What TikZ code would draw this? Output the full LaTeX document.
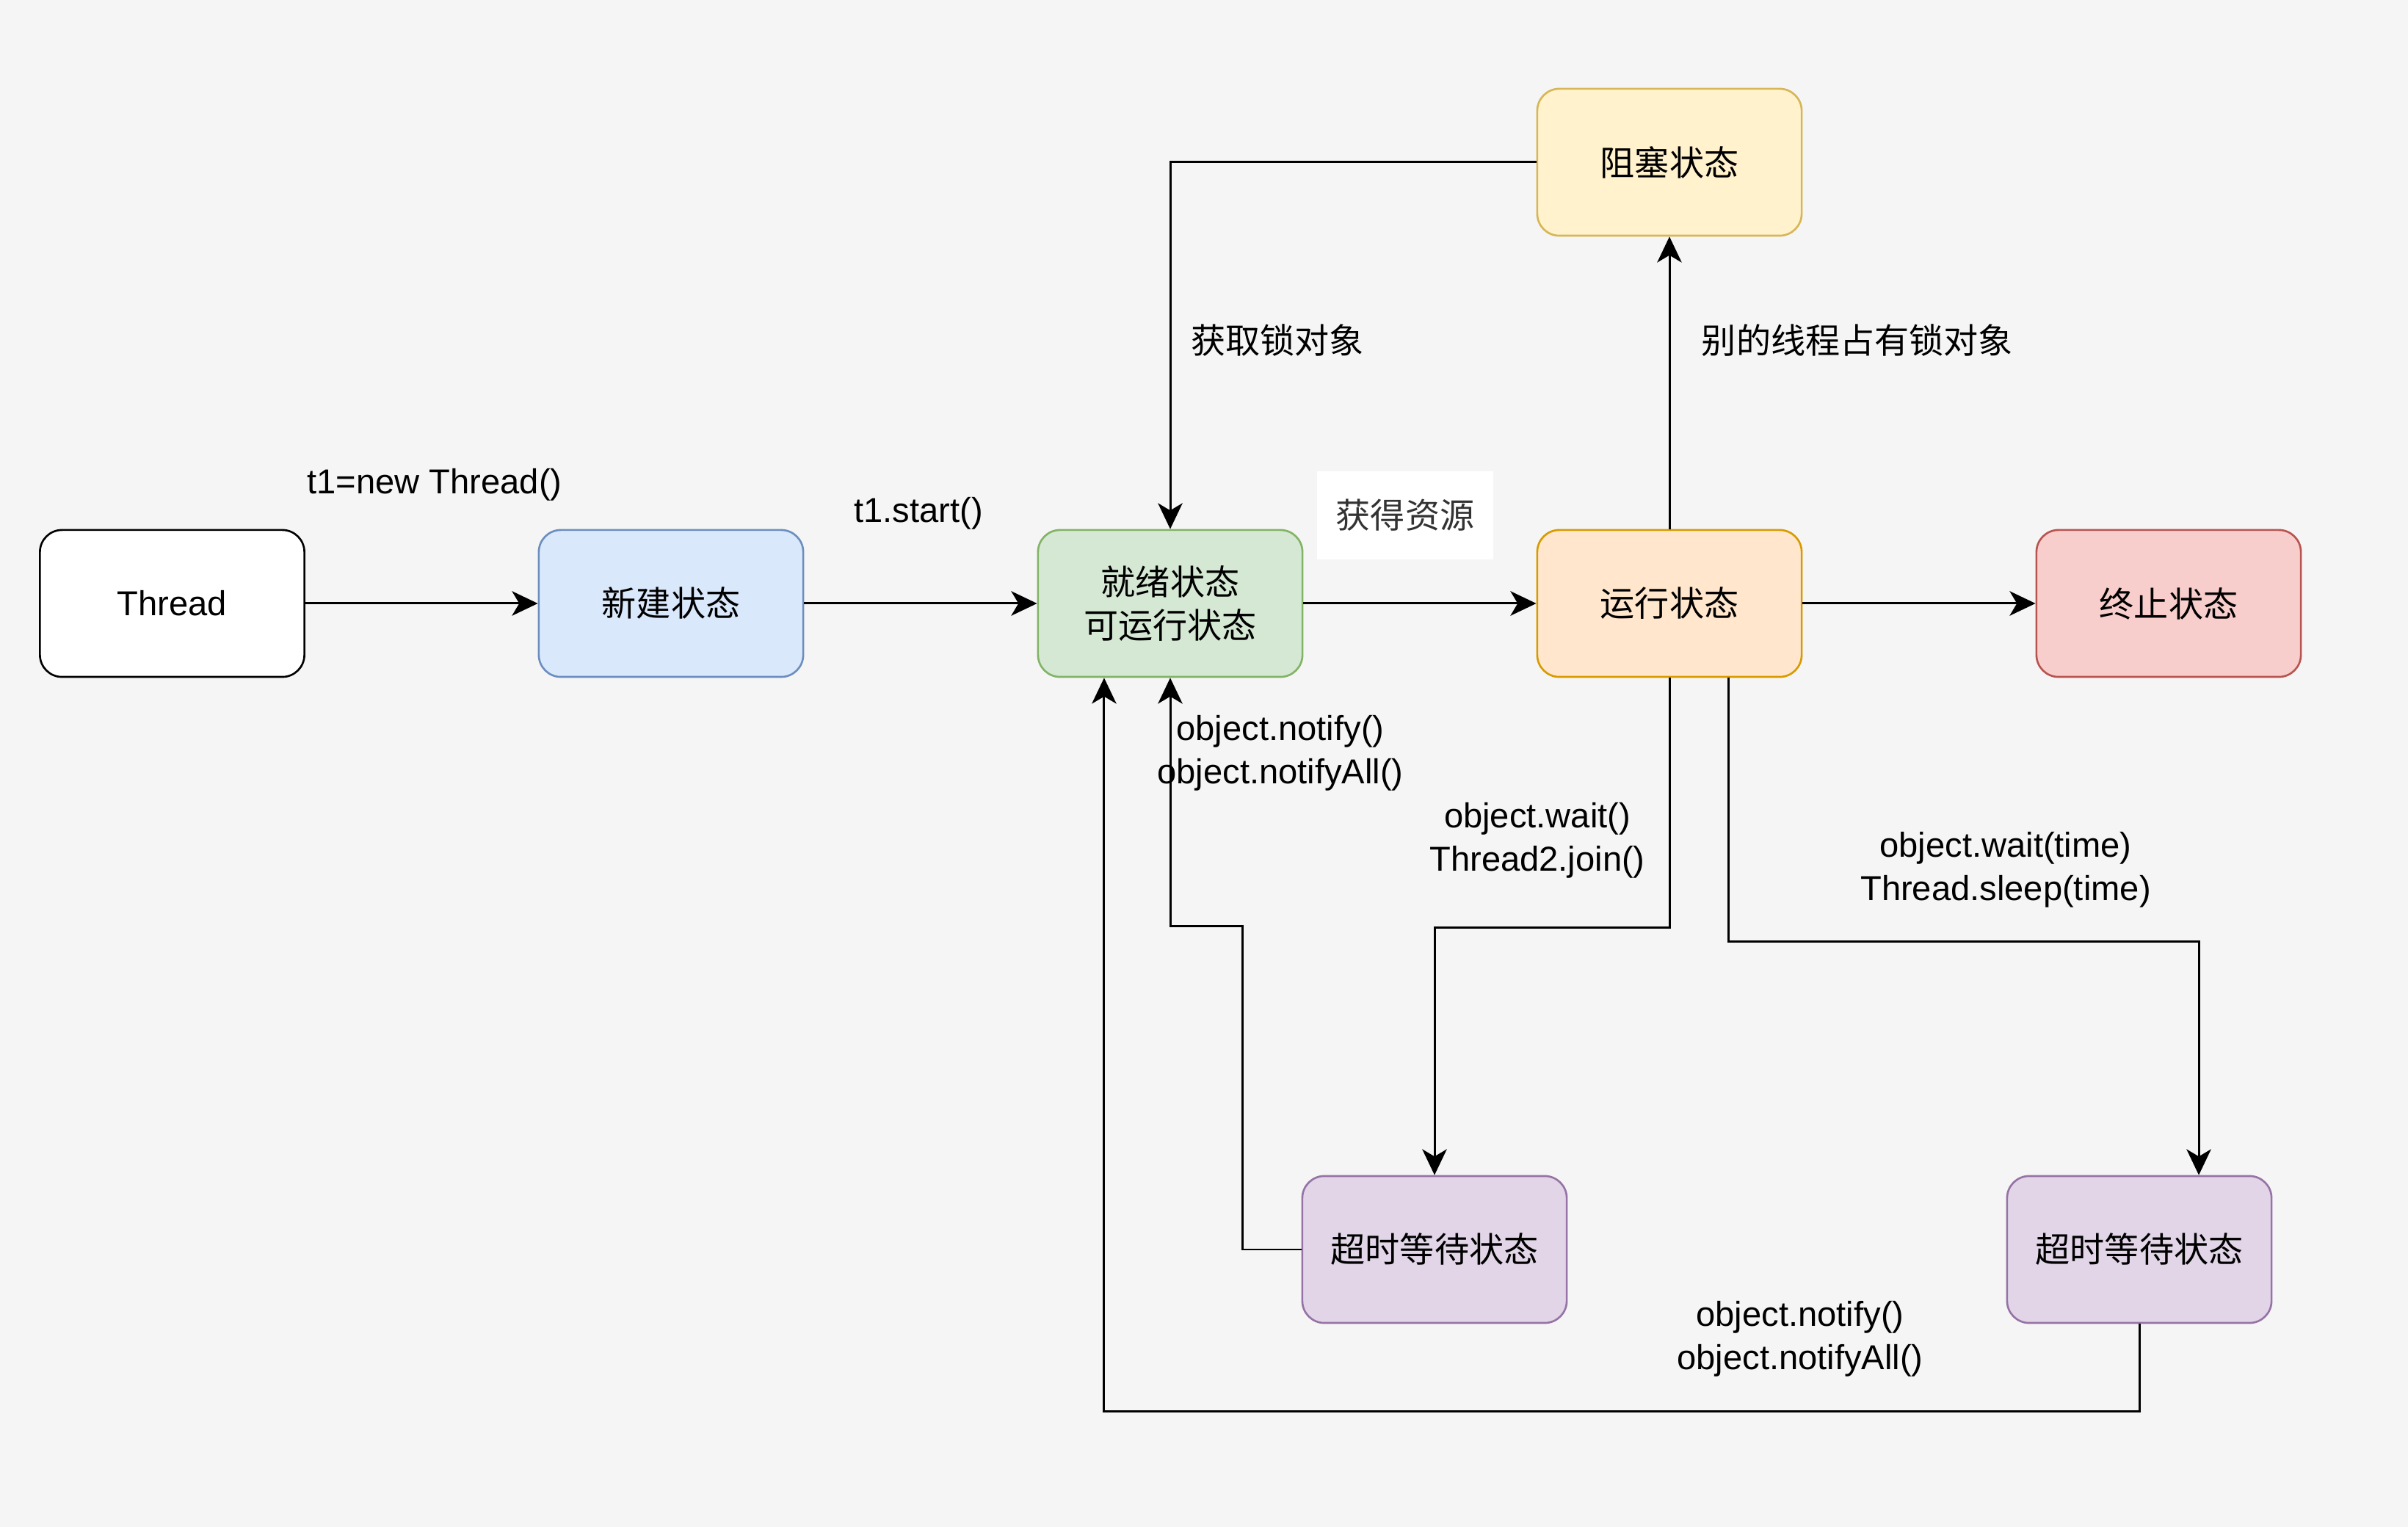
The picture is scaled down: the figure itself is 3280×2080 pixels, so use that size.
\documentclass[tikz,border=0pt]{standalone}
\usepackage{fontspec}
\setmainfont{Liberation Sans}
\newfontfamily\cjk{Noto Sans CJK SC}
\usetikzlibrary{arrows.meta}
\definecolor{bgc}{HTML}{F5F5F5}
\definecolor{bluef}{HTML}{DAE8FC}\definecolor{blues}{HTML}{6C8EBF}
\definecolor{greenf}{HTML}{D5E8D4}\definecolor{greens}{HTML}{82B366}
\definecolor{orangef}{HTML}{FFE6CC}\definecolor{oranges}{HTML}{D79B00}
\definecolor{redf}{HTML}{F8CECC}\definecolor{reds}{HTML}{B85450}
\definecolor{yellowf}{HTML}{FFF2CC}\definecolor{yellows}{HTML}{D6B656}
\definecolor{purplef}{HTML}{E1D5E7}\definecolor{purples}{HTML}{9673A6}
\definecolor{txtgray}{HTML}{333333}
\tikzset{
  statebox/.style={draw, rounded corners=0.3cm, minimum width=3.6cm, minimum height=2cm,
    line width=0.75pt, align=center, inner sep=0pt,
    font=\cjk\fontsize{13.4pt}{16.8pt}\selectfont},
  lbl/.style={align=center, inner sep=0pt, font=\fontsize{13.4pt}{16.6pt}\selectfont},
  cjklbl/.style={align=center, inner sep=0pt, font=\cjk\fontsize{13.4pt}{16.6pt}\selectfont},
  conn/.style={line width=0.85pt, -{Stealth[length=10pt,width=9.5pt,inset=2.8pt]}},
}
\begin{document}
\begin{tikzpicture}[x=0.01cm,y=-0.01cm]
\fill[bgc] (0,0) rectangle (3280,2080);
\useasboundingbox (0,0) rectangle (3280,2080);
% nodes
\node[statebox, fill=white, draw=black, font=\fontsize{13.4pt}{16.8pt}\selectfont] (thread) at (234.5,822) {Thread};
\node[statebox, fill=bluef, draw=blues] (xinjian) at (914,822) {新建状态};
\node[statebox, fill=greenf, draw=greens] (jiuxu) at (1594,822) {就绪状态\\可运行状态};
\node[statebox, fill=orangef, draw=oranges] (yunxing) at (2274,822) {运行状态};
\node[statebox, fill=redf, draw=reds] (zhongzhi) at (2954,822) {终止状态};
\node[statebox, fill=yellowf, draw=yellows] (zusai) at (2274,221) {阻塞状态};
\node[statebox, fill=purplef, draw=purples] (chaoshi1) at (1954,1702) {超时等待状态};
\node[statebox, fill=purplef, draw=purples] (chaoshi2) at (2914,1702) {超时等待状态};
% connectors
\draw[conn] (thread) -- (xinjian);
\draw[conn] (xinjian) -- (jiuxu);
\draw[conn] (jiuxu) -- (yunxing);
\draw[conn] (yunxing) -- (zhongzhi);
\draw[conn] (yunxing) -- (zusai);
\draw[conn] (zusai.west) -| (jiuxu.north);
\draw[conn] (yunxing.south) -- ++(0,-3.4cm) -| (chaoshi1.north);
\draw[conn] ([xshift=0.8cm]yunxing.south) -- ++(0,-3.59cm) -| ([xshift=0.81cm]chaoshi2.north);
\draw[conn] (chaoshi1.west) -- ++(-0.8cm,0) -- ++(0,4.4cm) -| (jiuxu.south);
\draw[conn] (chaoshi2.south) -- ++(0,-1.19cm) -| ([xshift=-0.9cm]jiuxu.south);
% labels
\node[lbl] (l1) at (592,660) {t1=new Thread()};
\node[lbl] (l2) at (1251,699) {t1.start()};
\node[fill=white, minimum width=2.4cm, minimum height=1.2cm, inner sep=0pt] (l3box) at (1914,702) {};
\node[cjklbl, text=txtgray] (l3) at (1914,702) {获得资源};
\node[cjklbl] (l4) at (1740,464) {获取锁对象};
\node[cjklbl] (l5) at (2530,464) {别的线程占有锁对象};
\node[lbl] (l6) at (1744,1026) {object.notify()\\object.notifyAll()};
\node[lbl] (l7) at (2094,1145) {object.wait()\\Thread2.join()};
\node[lbl] (l8) at (2732,1185) {object.wait(time)\\Thread.sleep(time)};
\node[lbl] (l9) at (2452,1824) {object.notify()\\object.notifyAll()};
\end{tikzpicture}
\end{document}
